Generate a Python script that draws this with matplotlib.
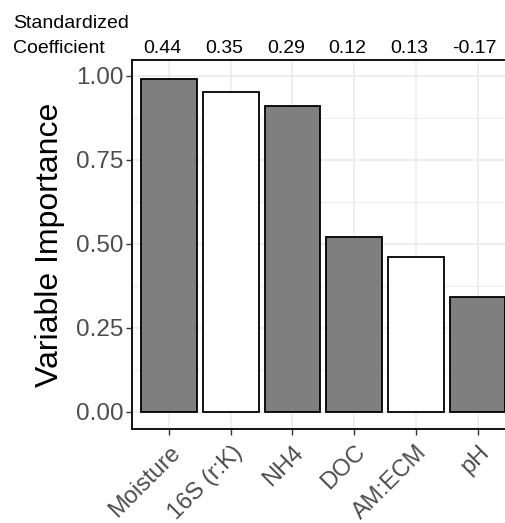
import matplotlib.pyplot as plt
from matplotlib.ticker import MultipleLocator
from matplotlib.transforms import blended_transform_factory, ScaledTranslation

plt.rcParams['font.family'] = ['Liberation Sans', 'DejaVu Sans']

# data
variables = ["Moisture", "16S (r:K)", "NH4", "DOC", "AM:ECM", "pH"]
importance = [0.99, 0.95, 0.91, 0.52, 0.46, 0.34]
coefficients = ["0.44", "0.35", "0.29", "0.12", "0.13", "-0.17"]
group = ["grey", "white", "grey", "grey", "white", "grey"]

fill = {"grey": "#7f7f7f", "white": "white"}

fig = plt.figure(figsize=(5.05, 5.23), dpi=100)
# panel runs past the right edge of the picture, as in the original
ax = fig.add_axes([132 / 505, 94 / 523, (514.7 - 132) / 505, 369 / 523])

xs = list(range(1, len(variables) + 1))
ax.bar(xs, importance, width=0.9, color=[fill[g] for g in group],
       edgecolor="black", linewidth=1.3, zorder=3)

ax.set_xlim(0.4, 6.6)
ax.set_ylim(-0.0515, 1.0467)
ax.set_xticks(xs)
ax.set_xticklabels(variables, rotation=45, ha="right", va="center",
                   rotation_mode="anchor", fontsize=17, color="#4d4d4d")
ax.yaxis.set_major_locator(MultipleLocator(0.25))
ax.yaxis.set_minor_locator(MultipleLocator(0.125))
ax.set_yticks([0, 0.25, 0.5, 0.75, 1.0])
ax.set_yticklabels(["0.00", "0.25", "0.50", "0.75", "1.00"], fontsize=17.5, color="#4d4d4d")

ax.grid(which="major", color="#ebebeb", linewidth=1.1, zorder=0)
ax.grid(which="minor", axis="y", color="#ebebeb", linewidth=0.6, zorder=0)
ax.set_axisbelow(True)
ax.tick_params(axis="both", which="major", length=4, width=1, color="#333333", pad=2)
ax.tick_params(axis="y", which="minor", length=0)
ax.tick_params(axis="x", pad=4)

# nudge rotated labels like ggplot
for lab in ax.get_xticklabels():
    lab.set_transform(lab.get_transform() + ScaledTranslation(8 / 100, -9 / 100, fig.dpi_scale_trans))

for s in ax.spines.values():
    s.set_color("black")
    s.set_linewidth(1.3)

ax.set_ylabel("Variable Importance", fontsize=23, labelpad=8)

# standardized coefficients above the panel
tr = blended_transform_factory(ax.transData, fig.transFigure)
for x, c in zip(xs, coefficients):
    ax.text(x - 0.415, 1 - 53 / 523, c, transform=tr, ha="left", va="baseline",
            fontsize=14, color="black")
fig.text(13 / 505, 1 - 53 / 523, "Coefficient", ha="left", va="baseline", fontsize=14)
fig.text(13 / 505, 1 - 28 / 523, "Standardized", ha="left", va="baseline", fontsize=14)

fig.savefig("out.png", dpi=100)
